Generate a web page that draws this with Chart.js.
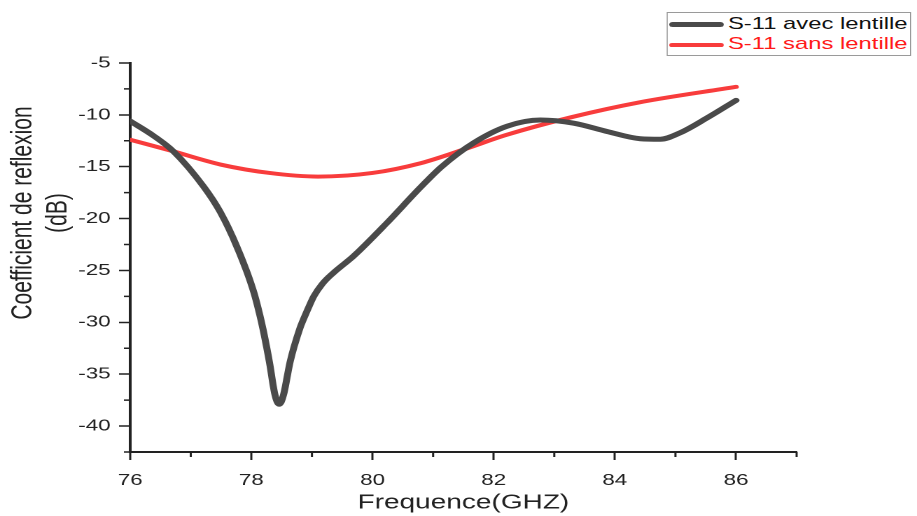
<!DOCTYPE html>
<html>
<head>
<meta charset="utf-8">
<title>S-11</title>
<script src="https://cdn.jsdelivr.net/npm/chart.js"></script>
<style>
html, body { margin: 0; padding: 0; background: #fff; overflow: hidden; }
/* the reference picture is stretched sideways, so the whole chart is drawn narrow and widened */
#stage { position: absolute; left: 0; top: 0; width: 655px; height: 516px; transform: scaleX(1.4); transform-origin: 0 0; }
#legend { position: absolute; left: 476px; top: 12px; width: 175px; height: 44px; border: 1px solid #9a9a9a; box-sizing: border-box;
  font-family: "Liberation Sans", Arial, sans-serif; font-size: 17px; background: #fff; }
#legend .row { position: absolute; left: 1px; height: 20px; line-height: 20px; white-space: nowrap; }
#legend .sw { display: inline-block; width: 39px; vertical-align: middle; border-radius: 3px; margin-right: 3px; }
</style>
</head>
<body>
<div id="stage">
  <canvas id="s11Chart" width="655" height="516"></canvas>
  <div id="legend">
    <div class="row" style="top:1px;color:#111"><span class="sw" style="height:5px;background:#4a4a4a"></span>S-11 avec lentille</div>
    <div class="row" style="top:21px;color:#ff1a1a"><span class="sw" style="height:4px;background:#f83c3c"></span>S-11 sans lentille</div>
  </div>
</div>
<script>
// S-11 avec lentille
var freqAvec = [76.0, 76.38, 76.71, 77.21, 77.49, 77.76, 78.04, 78.19, 78.30, 78.39, 78.46, 78.53, 78.64, 78.80, 78.92, 79.03, 79.17, 79.36, 79.69, 80.24, 80.79, 81.14, 81.67, 82.22, 82.77, 83.32, 83.87, 84.42, 84.75, 85.07, 85.52, 86.0];
var s11Avec  = [-10.6, -12.0, -13.5, -16.9, -19.4, -22.7, -27.1, -30.6, -33.9, -37.0, -37.9, -37.0, -33.8, -30.6, -28.9, -27.5, -26.3, -25.2, -23.6, -20.4, -17.0, -15.0, -12.7, -11.1, -10.5, -10.8, -11.6, -12.3, -12.35, -11.75, -10.3, -8.6];

// S-11 sans lentille
var freqSans = [76.0, 76.7, 77.5, 78.3, 79.1, 80.0, 80.8, 81.5, 82.2, 83.3, 84.4, 86.0];
var s11Sans  = [-12.4, -13.5, -14.8, -15.6, -15.95, -15.6, -14.65, -13.35, -11.95, -10.2, -8.8, -7.3];

var xTickValues  = [76, 78, 80, 82, 84, 86];
var xMinorValues = [77, 79, 81, 83, 85, 87];
var yTickValues  = [-40, -35, -30, -25, -20, -15, -10, -5];
var yMinorValues = [-42.5, -37.5, -32.5, -27.5, -22.5, -17.5, -12.5, -7.5];

var fam = '"Liberation Sans", Arial, sans-serif';

function toPoints(xs, ys) {
  return xs.map(function(x, i) { return {x: x, y: ys[i]}; });
}

// short minor ticks, placed through the scales
var minorTicks = {
  id: 'minorTicks',
  afterDraw: function(chart) {
    var ctx = chart.ctx, x = chart.scales.x, y = chart.scales.y;
    ctx.save();
    ctx.strokeStyle = '#222';
    ctx.lineWidth = 1.5;
    ctx.beginPath();
    xMinorValues.forEach(function(v) {
      var px = x.getPixelForValue(v);
      ctx.moveTo(px, y.bottom); ctx.lineTo(px, y.bottom + 5);
    });
    yMinorValues.forEach(function(v) {
      var py = y.getPixelForValue(v);
      ctx.moveTo(x.left, py); ctx.lineTo(x.left - 4.5, py);
    });
    ctx.stroke();
    ctx.restore();
  }
};

// y title sits above the middle of the axis in the reference
var yTitle = {
  id: 'yTitle',
  afterDraw: function(chart) {
    var ctx = chart.ctx;
    ctx.save();
    ctx.fillStyle = '#222';
    ctx.font = '21px ' + fam;
    ctx.textAlign = 'center';
    ctx.textBaseline = 'middle';
    ctx.translate(16.5, 213);
    ctx.rotate(-Math.PI / 2);
    ctx.fillText('Coefficient de reflexion', 0, 0);
    ctx.fillText('(dB)', 0, 25);
    ctx.restore();
  }
};

new Chart(document.getElementById('s11Chart'), {
  type: 'line',
  data: {
    datasets: [
      {
        label: 'S-11 avec lentille',
        data: toPoints(freqAvec, s11Avec),
        borderColor: '#4a4a4a',
        borderWidth: 5,
        pointRadius: 0,
        cubicInterpolationMode: 'monotone',
        borderCapStyle: 'round',
        borderJoinStyle: 'round',
        fill: false
      },
      {
        label: 'S-11 sans lentille',
        data: toPoints(freqSans, s11Sans),
        borderColor: '#f83c3c',
        borderWidth: 4,
        pointRadius: 0,
        cubicInterpolationMode: 'monotone',
        borderCapStyle: 'round',
        borderJoinStyle: 'round',
        fill: false
      }
    ]
  },
  options: {
    responsive: false,
    animation: false,
    devicePixelRatio: 2,
    layout: { padding: { top: 63, right: 86, bottom: 0, left: 0 } },
    plugins: {
      legend: { display: false },
      tooltip: { enabled: false }
    },
    scales: {
      x: {
        type: 'linear',
        min: 76,
        max: 87,
        afterBuildTicks: function(s) { s.ticks = xTickValues.map(function(v) { return {value: v}; }); },
        afterFit: function(s) { s.height = 64; },
        border: { color: '#222', width: 2 },
        grid: { drawOnChartArea: false, tickLength: 8, tickWidth: 1.5, tickColor: '#222' },
        ticks: { color: '#222', font: { family: fam, size: 16 }, padding: 11, maxRotation: 0, autoSkip: false },
        title: { display: true, text: 'Frequence(GHZ)', color: '#222', font: { family: fam, size: 20 }, padding: { top: 0, bottom: 1 } }
      },
      y: {
        min: -42.5,
        max: -5,
        afterBuildTicks: function(s) { s.ticks = yTickValues.map(function(v) { return {value: v}; }); },
        afterFit: function(s) { s.width = 93; },
        border: { color: '#222', width: 2 },
        grid: { drawOnChartArea: false, tickLength: 8, tickWidth: 1.5, tickColor: '#222' },
        ticks: { color: '#222', font: { family: fam, size: 16 }, padding: 6, autoSkip: false }
      }
    }
  },
  plugins: [minorTicks, yTitle]
});
</script>
</body>
</html>
